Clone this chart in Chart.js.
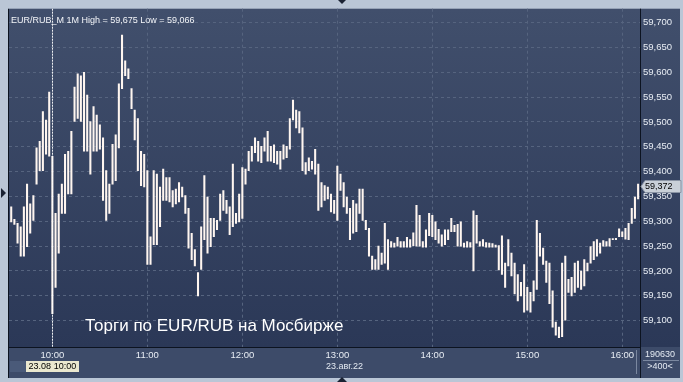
<!DOCTYPE html>
<html>
<head>
<meta charset="utf-8">
<script src="https://cdn.jsdelivr.net/npm/chart.js@4/dist/chart.umd.min.js"></script>
<style>
  html, body { margin: 0; padding: 0; background: #bac6d6; }
  canvas { display: block; }
</style>
</head>
<body>
<canvas id="c" width="683" height="382"></canvas>
<script>
// EUR/RUB_M, 1M bars (read every 2 minutes), 23.08.22
const titleText = 'EUR/RUB_M 1M High = 59,675 Low = 59,066';
const captionText = 'Торги по EUR/RUB на Мосбирже';
const dateText = '23.авг.22';
const cursorLabel = '23.08 10:00';
const cursorTime = '10:00';
const lastClose = 59372;
const cornerTop = '190630';
const cornerBottom = '>400<';

const hourLabels = ['10:00', '11:00', '12:00', '13:00', '14:00', '15:00', '16:00'];
const priceTicks = [59100, 59150, 59200, 59250, 59300, 59350, 59400, 59450, 59500, 59550, 59600, 59650, 59700];

const barTimes = [
  '09:34','09:36','09:38','09:40','09:42','09:44','09:46','09:48','09:50','09:52','09:54','09:56','09:58',
  '10:00','10:02','10:04','10:06','10:08','10:10','10:12','10:14','10:16','10:18','10:20','10:22','10:24','10:26','10:28','10:30','10:32','10:34','10:36','10:38','10:40','10:42','10:44','10:46','10:48','10:50','10:52','10:54','10:56','10:58',
  '11:00','11:02','11:04','11:06','11:08','11:10','11:12','11:14','11:16','11:18','11:20','11:22','11:24','11:26','11:28','11:30','11:32','11:34','11:36','11:38','11:40','11:42','11:44','11:46','11:48','11:50','11:52','11:54','11:56','11:58',
  '12:00','12:02','12:04','12:06','12:08','12:10','12:12','12:14','12:16','12:18','12:20','12:22','12:24','12:26','12:28','12:30','12:32','12:34','12:36','12:38','12:40','12:42','12:44','12:46','12:48','12:50','12:52','12:54','12:56','12:58',
  '13:00','13:02','13:04','13:06','13:08','13:10','13:12','13:14','13:16','13:18','13:20','13:22','13:24','13:26','13:28','13:30','13:32','13:34','13:36','13:38','13:40','13:42','13:44','13:46','13:48','13:50','13:52','13:54','13:56','13:58',
  '14:00','14:02','14:04','14:06','14:08','14:10','14:12','14:14','14:16','14:18','14:20','14:22','14:24','14:26','14:28','14:30','14:32','14:34','14:36','14:38','14:40','14:42','14:44','14:46','14:48','14:50','14:52','14:54','14:56','14:58',
  '15:00','15:02','15:04','15:06','15:08','15:10','15:12','15:14','15:16','15:18','15:20','15:22','15:24','15:26','15:28','15:30','15:32','15:34','15:36','15:38','15:40','15:42','15:44','15:46','15:48','15:50','15:52','15:54','15:56','15:58',
  '16:00','16:02','16:04','16:06','16:08','16:10'
];

const barHigh = [
  59329,59304,59296,59289,59329,59375,59335,59352,59448,59461,59521,59504,59560,
  59431,59316,59355,59375,59435,59441,59481,59570,59597,59593,59600,59554,59501,59531,59514,59494,59468,59402,59375,59455,59474,59577,59675,59623,59607,59567,
  59524,59507,59441,59435,59402,59269,59402,59395,59369,59405,59388,59388,59362,59365,59378,59369,59352,59326,59276,59243,
  59197,59289,59392,59349,59306,59306,59302,59355,59362,59342,59329,59415,59316,59355,59408,59405,59441,59451,59468,59461,
  59451,59468,59481,59451,59454,59441,59441,59454,59451,59507,59544,59524,59521,59488,59418,59428,59421,59445,59415,59378,
  59372,59369,59355,59342,59411,59395,59378,59349,59326,59342,59335,59365,59365,59302,59286,59230,59223,59250,59236,59296,
  59263,59259,59256,59268,59259,59259,59268,59263,59277,59332,59312,59259,59283,59316,59312,59299,59284,59273,59283,59283,
  59306,59292,59294,59299,59256,59259,59257,59321,59312,59259,59263,59257,59256,59255,59252,59251,59271,59216,59263,59236,
  59216,59193,59177,59213,59167,59157,59180,59302,59276,59246,59220,59216,59160,59097,59087,59216,59230,59183,59187,59216,
  59220,59200,59223,59216,59249,59259,59263,59256,59261,59259,59265,59265,59266,59285,59279,59286,59296,59326,59349,59375
];

const barLow = [
  59299,59294,59256,59230,59230,59249,59276,59302,59375,59402,59402,59435,59431,
  59114,59167,59236,59316,59316,59355,59355,59501,59507,59501,59441,59441,59395,59441,59441,59445,59342,59302,59316,59375,59382,59448,59567,59593,59587,59527,
  59464,59402,59372,59369,59213,59213,59253,59253,59289,59342,59342,59339,59329,59335,59339,59349,59316,59246,59223,59210,
  59150,59203,59263,59236,59249,59269,59283,59302,59322,59316,59273,59289,59296,59299,59306,59375,59402,59421,59438,59421,
  59418,59441,59421,59421,59418,59415,59405,59425,59428,59445,59504,59488,59478,59402,59395,59402,59405,59395,59322,59329,
  59342,59345,59319,59316,59302,59362,59329,59316,59263,59276,59279,59316,59302,59283,59230,59203,59203,59203,59213,59216,
  59203,59248,59248,59250,59248,59248,59248,59248,59251,59250,59250,59248,59248,59271,59269,59263,59256,59250,59253,59263,
  59279,59279,59250,59250,59248,59248,59248,59200,59256,59250,59250,59248,59248,59248,59248,59202,59193,59167,59210,59190,
  59154,59140,59150,59117,59121,59117,59140,59163,59230,59213,59177,59134,59087,59071,59066,59068,59101,59157,59150,59157,
  59167,59163,59170,59200,59216,59223,59230,59236,59250,59250,59250,59263,59263,59269,59269,59264,59263,59296,59306,59345
];

const FONT = '"Liberation Sans", Arial, sans-serif';
const toMin = s => { const [h, m] = s.split(':').map(Number); return h * 60 + m; };
const fmtPrice = v => String(Math.round(v)).replace(/(\d+)(\d{3})$/, '$1,$2');

const bars = barTimes.map((t, i) => ({ x: toMin(t), y: [barLow[i], barHigh[i]] }));

// фон, панели осей, надписи терминала
const decor = {
  id: 'decor',
  beforeDraw(chart) {
    const { ctx, chartArea: a, width, height } = chart;
    const xs = chart.scales.x, ys = chart.scales.y;
    ctx.save();
    ctx.fillStyle = '#bac6d6';
    ctx.fillRect(0, 0, width, height);

    const g = ctx.createLinearGradient(0, a.top, 0, a.bottom);
    g.addColorStop(0, '#414f6c');
    g.addColorStop(1, '#2b3857');
    ctx.fillStyle = g;
    ctx.fillRect(a.left, a.top, ys.right - a.left, a.bottom - a.top);

    ctx.fillStyle = '#3d4b69';
    ctx.fillRect(a.left, a.bottom, ys.right - a.left, xs.bottom - a.bottom);

    // рамки
    ctx.fillStyle = '#0c1320';
    ctx.fillRect(a.left - 1, a.top, 1, xs.bottom - a.top);
    ctx.fillRect(a.left, a.bottom, a.right - a.left, 1);
    ctx.fillRect(a.right, a.top, 1, xs.bottom - a.top);
    ctx.restore();
  },
  afterDatasetsDraw(chart) {
    const { ctx, chartArea: a } = chart;
    const xs = chart.scales.x;
    const cx = Math.round(xs.getPixelForValue(toMin(cursorTime))) + 0.5;
    ctx.save();
    ctx.strokeStyle = 'rgba(255,255,255,0.9)';
    ctx.lineWidth = 1;
    ctx.setLineDash([2, 1]);
    ctx.beginPath();
    ctx.moveTo(cx, a.top);
    ctx.lineTo(cx, a.bottom);
    ctx.stroke();
    ctx.restore();
  },
  afterDraw(chart) {
    const { ctx, chartArea: a, width, height } = chart;
    const xs = chart.scales.x, ys = chart.scales.y;
    ctx.save();

    ctx.fillStyle = '#f2f4f8';
    ctx.font = '9px ' + FONT;
    ctx.textBaseline = 'alphabetic';
    ctx.textAlign = 'left';
    ctx.fillText(titleText, a.left + 2, a.top + 14);

    ctx.font = '17px ' + FONT;
    ctx.fillStyle = '#ffffff';
    ctx.fillText(captionText, a.left + 76, a.bottom - 16);

    // метка курсора по времени
    const cx = xs.getPixelForValue(toMin(cursorTime));
    ctx.font = '9px ' + FONT;
    const bw = 53, bh = 11, by = a.bottom + 14;
    ctx.fillStyle = '#4a5a79';
    ctx.fillRect(a.left + 1, by, cx - bw / 2 - a.left - 1, bh);
    ctx.fillStyle = '#ebe8cf';
    ctx.fillRect(Math.round(cx - bw / 2), by, bw, bh);
    ctx.fillStyle = '#000';
    ctx.textAlign = 'center';
    ctx.textBaseline = 'middle';
    ctx.fillText(cursorLabel, cx, by + bh / 2 + 0.5);

    ctx.fillStyle = '#e4eaf2';
    ctx.fillText(dateText, width / 2 + 3, a.bottom + 20);

    // разделитель и угловой блок
    ctx.fillStyle = '#7b88a0';
    ctx.fillRect(a.right - 4, a.bottom + 3, 1, 24);
    ctx.fillRect(a.right + 3, a.bottom + 13, 36, 1);
    ctx.fillStyle = '#e4eaf2';
    ctx.fillText(cornerTop, a.right + 20, a.bottom + 8);
    ctx.fillText(cornerBottom, a.right + 20, a.bottom + 20);

    // последняя цена
    const py = Math.round(ys.getPixelForValue(lastClose));
    ctx.fillStyle = '#c9d0d8';
    ctx.strokeStyle = '#8a94a4';
    ctx.beginPath();
    ctx.moveTo(a.right + 1, py + 0.5);
    ctx.lineTo(a.right + 5, py - 5.5);
    ctx.lineTo(a.right + 41, py - 5.5);
    ctx.lineTo(a.right + 41, py + 6.5);
    ctx.lineTo(a.right + 5, py + 6.5);
    ctx.closePath();
    ctx.fill();
    ctx.stroke();
    ctx.fillStyle = '#000';
    ctx.textAlign = 'left';
    ctx.fillText(fmtPrice(lastClose), a.right + 5, py + 1);

    // маркеры курсора по краям
    ctx.fillStyle = '#1a2233';
    const mx = Math.round(width / 2);
    ctx.beginPath();
    ctx.moveTo(mx - 4, 0); ctx.lineTo(mx + 4, 0); ctx.lineTo(mx, 4); ctx.closePath(); ctx.fill();
    ctx.beginPath();
    ctx.moveTo(mx - 5, height); ctx.lineTo(mx + 5, height); ctx.lineTo(mx, height - 5); ctx.closePath(); ctx.fill();
    const ly = Math.round(ys.getPixelForValue(59358));
    ctx.beginPath();
    ctx.moveTo(1, ly - 5); ctx.lineTo(6, ly); ctx.lineTo(1, ly + 5); ctx.closePath(); ctx.fill();

    ctx.restore();
  }
};

new Chart(document.getElementById('c').getContext('2d'), {
  type: 'bar',
  data: {
    datasets: [{
      data: bars,
      backgroundColor: '#fff6f0',
      borderWidth: 0,
      barThickness: 1.4,
      minBarLength: 1,
    }],
  },
  options: {
    responsive: false,
    animation: false,
    devicePixelRatio: 1,
    layout: { padding: { left: 9, top: 4, right: 3, bottom: 4 } },
    plugins: { legend: { display: false }, tooltip: { enabled: false } },
    scales: {
      x: {
        type: 'linear', min: 572.6, max: 971.2, offset: false,
        afterBuildTicks: s => { s.ticks = hourLabels.map(h => ({ value: toMin(h) })); },
        afterFit: s => { s.height = 31; },
        ticks: {
          callback: v => hourLabels.find(h => toMin(h) === v) || null,
          color: '#e8edf4', font: { family: FONT, size: 9.5 }, padding: 3, maxRotation: 0, autoSkip: false,
        },
        grid: { color: '#56647f', drawTicks: false, offset: false },
        border: { display: false, dash: [3, 3] },
      },
      y: {
        position: 'right', min: 59047, max: 59728,
        afterBuildTicks: s => { s.ticks = priceTicks.map(v => ({ value: v })); },
        afterFit: s => { s.width = 40; },
        ticks: { callback: v => fmtPrice(v), color: '#e8edf4', font: { family: FONT, size: 9.5 }, padding: 3 },
        grid: { color: '#56647f', drawTicks: false },
        border: { display: false, dash: [3, 3] },
      },
    },
  },
  plugins: [decor],
});
</script>
</body>
</html>
